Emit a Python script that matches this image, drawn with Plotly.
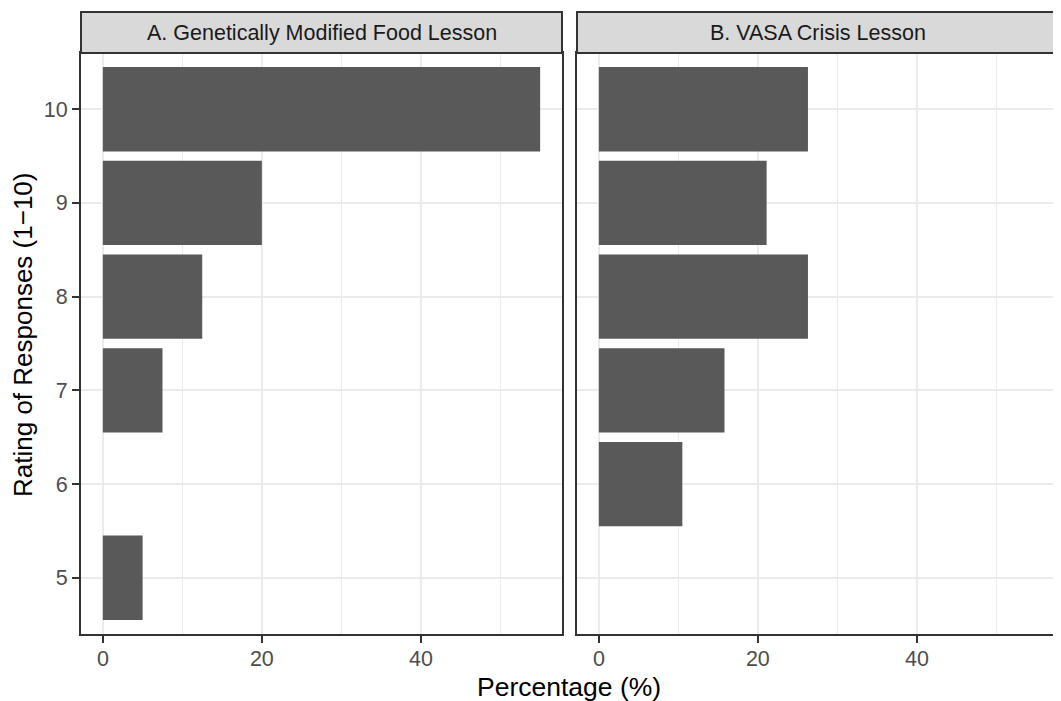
import plotly.graph_objects as go

# ---- data ----
panel_titles = ["A. Genetically Modified Food Lesson", "B. VASA Crisis Lesson"]
gm_ratings = [10, 9, 8, 7, 5]
gm_pct = [55.0, 20.0, 12.5, 7.5, 5.0]
vasa_ratings = [10, 9, 8, 7, 6]
vasa_pct = [26.3, 21.1, 26.3, 15.8, 10.5]
y_ticks = [5, 6, 7, 8, 9, 10]
x_ticks = [0, 20, 40]
x_minor = [10, 30, 50]
x_title = "Percentage (%)"
y_title = "Rating of Responses (1\u221210)"

# ---- layout helpers (pixel geometry of the page; the page body has an 8px margin) ----
OFF = 8
W, H = 1061 - OFF, 701 - OFF
FONT = "Liberation Sans, Arial, Helvetica, sans-serif"
BAR = "#595959"
GRID = "#EBEBEB"
DARK = "#333333"


def fx(p):
    return (p - OFF) / W


def fy(p):
    return 1 - (p - OFF) / H


panel_x = [(81, 562), (577, 1058)]
panel_top, panel_bottom = 53, 634
strip_top = 12

fig = go.Figure()
fig.add_trace(go.Bar(x=gm_pct, y=gm_ratings, orientation="h", width=0.9,
                     marker=dict(color=BAR, line=dict(width=0)),
                     xaxis="x", yaxis="y", hoverinfo="x+y"))
fig.add_trace(go.Bar(x=vasa_pct, y=vasa_ratings, orientation="h", width=0.9,
                     marker=dict(color=BAR, line=dict(width=0)),
                     xaxis="x2", yaxis="y2", hoverinfo="x+y"))

xmax = max(gm_pct + vasa_pct)
xr = [-0.05 * xmax, 1.05 * xmax]
yr = [min(y_ticks) - 0.6, max(y_ticks) + 0.6]

common_x = dict(range=xr, tickvals=x_ticks, ticks="outside", ticklen=7, tickwidth=2,
                tickcolor=DARK, showgrid=True, gridcolor=GRID, gridwidth=2,
                minor=dict(tickvals=x_minor, showgrid=True, gridcolor=GRID, gridwidth=1.2, ticks=""),
                showline=True, linecolor=DARK, linewidth=2, mirror=True, zeroline=False,
                ticklabelstandoff=-3,
                tickfont=dict(family=FONT, size=21.5, color="#4D4D4D"), fixedrange=True)
common_y = dict(range=yr, tickvals=y_ticks, showgrid=True, gridcolor=GRID, gridwidth=2,
                showline=True, linecolor=DARK, linewidth=2, mirror=True, zeroline=False,
                tickfont=dict(family=FONT, size=21.5, color="#4D4D4D"), fixedrange=True,
                domain=[fy(panel_bottom), fy(panel_top)])

fig.update_layout(
    width=W, height=H, margin=dict(l=0, r=0, t=0, b=0),
    paper_bgcolor="white", plot_bgcolor="white", showlegend=False,
    font=dict(family=FONT),
    xaxis=dict(common_x, domain=[fx(panel_x[0][0]), fx(panel_x[0][1])], anchor="y"),
    xaxis2=dict(common_x, domain=[fx(panel_x[1][0]), fx(panel_x[1][1])], anchor="y2"),
    yaxis=dict(common_y, anchor="x", ticks="outside", ticklen=7, tickwidth=2, tickcolor=DARK),
    yaxis2=dict(common_y, anchor="x2", showticklabels=False, ticks=""),
)

shapes = []
annotations = []
for (x0, x1), title in zip(panel_x, panel_titles):
    shapes.append(dict(type="rect", xref="paper", yref="paper",
                       x0=fx(x0), x1=fx(x1), y0=fy(panel_top), y1=fy(strip_top),
                       fillcolor="#D9D9D9", line=dict(color=DARK, width=2), layer="above"))
    annotations.append(dict(text=title, xref="paper", yref="paper",
                            x=fx((x0 + x1) / 2), y=fy((strip_top + panel_top) / 2),
                            xanchor="center", yanchor="middle", showarrow=False,
                            font=dict(family=FONT, size=21.5, color="#1A1A1A")))

annotations.append(dict(text=x_title, xref="paper", yref="paper", x=fx(568.5), y=fy(687),
                        xanchor="center", yanchor="middle", showarrow=False,
                        font=dict(family=FONT, size=26.5, color="black")))
annotations.append(dict(text=y_title, xref="paper", yref="paper", x=fx(23), y=fy(335),
                        xanchor="center", yanchor="middle", showarrow=False, textangle=-90,
                        font=dict(family=FONT, size=26, color="black")))

fig.update_layout(shapes=shapes, annotations=annotations)
fig.write_html("out.html")
